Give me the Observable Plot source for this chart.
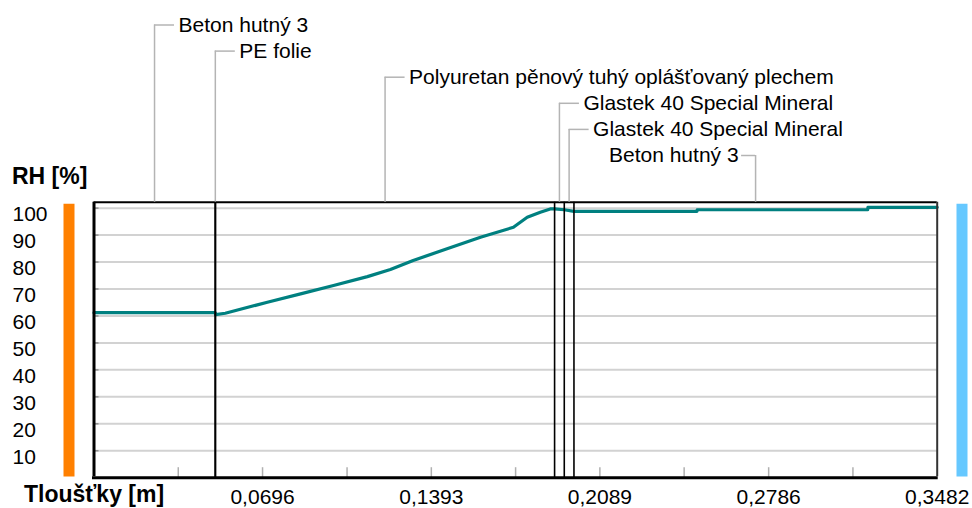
<!DOCTYPE html>
<html>
<head>
<meta charset="utf-8">
<script src="https://cdn.jsdelivr.net/npm/d3@7"></script>
<script src="https://cdn.jsdelivr.net/npm/@observablehq/plot@0.6"></script>
<style>
  html, body { margin: 0; padding: 0; background: #ffffff; }
</style>
</head>
<body>
<div id="chart"></div>
<script>
// ---- Data ----
const layerNames = [
  "Beton hutný 3",
  "PE folie",
  "Polyuretan pěnový tuhý oplášťovaný plechem",
  "Glastek 40 Special Mineral",
  "Glastek 40 Special Mineral",
  "Beton hutný 3"
];
const layerThickness = [0.05, 0.0002, 0.14, 0.004, 0.004, 0.15];
const labelSide = ["right", "right", "right", "right", "right", "left"];

const xTickValues = [0.0696, 0.1393, 0.2089, 0.2786, 0.3482];
const xMinorTicks = [0.0348, 0.0696, 0.1045, 0.1393, 0.1741, 0.2089, 0.2437, 0.2786, 0.3134];
const yTickValues = [10, 20, 30, 40, 50, 60, 70, 80, 90, 100];

const depth = [0, 0.05, 0.0502, 0.0542, 0.0716, 0.0853, 0.0989, 0.1129, 0.1224, 0.1318,
  0.1458, 0.1596, 0.1732, 0.1789, 0.1843, 0.1884, 0.1902, 0.1942, 0.1982, 0.2490,
  0.2491, 0.3195, 0.3196, 0.3482];
const rh = [61.2, 61.2, 60.5, 61.0, 65.1, 68.2, 71.3, 74.6, 77.2, 80.6,
  84.9, 89.2, 92.9, 96.6, 98.5, 99.7, 99.7, 99.4, 98.8, 98.8,
  99.4, 99.4, 100.3, 100.3];

// ---- Derived ----
const bounds = [0];
layerThickness.forEach(t => bounds.push(bounds[bounds.length - 1] + t));
const total = bounds[bounds.length - 1];
const layers = layerNames.map((name, i) => ({
  name, mid: (bounds[i] + bounds[i + 1]) / 2, side: labelSide[i]
}));
const curve = depth.map((d, i) => ({depth: d, rh: rh[i]}));

const Y_MAX = 102.2;
const M_TOP = 201.7, M_LEFT = 93.5, M_RIGHT = 35.3, M_BOTTOM = 30.8;
const ROW0 = 24.5, ROW_STEP = 26.1;
const LEADER = "#b4b4b4";

const labelMarks = layers.flatMap((d, i) => {
  const h = M_TOP - (ROW0 + ROW_STEP * i);
  const right = d.side === "right";
  return [
    Plot.ruleX([d], {x: "mid", y1: Y_MAX, y2: Y_MAX, insetTop: -h, stroke: LEADER, strokeWidth: 1.5}),
    Plot.ruleY([d], {y: Y_MAX, x1: "mid", x2: "mid", dy: -h,
      insetRight: right ? -20 : 0, insetLeft: right ? 0 : -14, stroke: LEADER, strokeWidth: 1.5}),
    Plot.text([d], {x: "mid", y: Y_MAX, dy: -h, dx: right ? 24 : -17, text: "name",
      textAnchor: right ? "start" : "end", lineAnchor: "middle", fill: "#000", fontSize: 21})
  ];
});

const chart = Plot.plot({
  width: 972,
  height: 508,
  marginTop: M_TOP,
  marginLeft: M_LEFT,
  marginRight: M_RIGHT,
  marginBottom: M_BOTTOM,
  style: {
    fontFamily: "'Liberation Sans', Arial, sans-serif",
    fontSize: "21px",
    background: "#ffffff",
    overflow: "visible",
    color: "#000"
  },
  x: {domain: [0, total], label: null},
  y: {domain: [0, Y_MAX], label: null},
  marks: [
    // side bars (interior / exterior)
    Plot.ruleX([0], {x: d => d, y1: 0, y2: Y_MAX, dx: -25, stroke: "#ff8000", strokeWidth: 11, insetTop: -0.7, insetBottom: -2}),
    Plot.ruleX([total], {x: d => d, y1: 0, y2: Y_MAX, dx: 24.8, stroke: "#66c8ff", strokeWidth: 11, insetTop: -0.7, insetBottom: -2}),
    // grid
    Plot.ruleY(yTickValues, {stroke: "#d2d2d2", strokeWidth: 2}),
    Plot.ruleY(yTickValues, {x1: 0, x2: 0, insetRight: -5, stroke: "#909090", strokeWidth: 1.5}),
    Plot.ruleX(xMinorTicks, {y1: 0, y2: 0, insetTop: -10, stroke: "#b0b0b0", strokeWidth: 1.5}),
    // curve
    Plot.line(curve, {x: "depth", y: "rh", stroke: "#008080", strokeWidth: 3.2}),
    // layer boundaries
    Plot.ruleX(bounds.slice(1, -1), {y1: 0, y2: Y_MAX, stroke: "#000", strokeWidth: 1.6}),
    // frame
    Plot.ruleY([Y_MAX], {stroke: "#000", strokeWidth: 2}),
    Plot.ruleY([0], {stroke: "#000", strokeWidth: 3, insetLeft: -1.5, insetRight: -1}),
    Plot.ruleX([0], {y1: 0, y2: Y_MAX, stroke: "#000", strokeWidth: 3, insetTop: -1}),
    Plot.ruleX([total], {y1: 0, y2: Y_MAX, stroke: "#333", strokeWidth: 2, insetTop: -1}),
    // axes
    Plot.axisY(yTickValues, {tickSize: 0, tickPadding: 81.5, textAnchor: "start", dy: 6.5, label: null, fontSize: 21, fill: "#000"}),
    Plot.axisX(xTickValues, {tickSize: 0, tickPadding: 11, label: null, fontSize: 21, fill: "#000",
      tickFormat: d => d.toFixed(4).replace(".", ",")}),
    // axis titles
    Plot.text(["RH [%]"], {text: d => d, frameAnchor: "top-left", dx: -82, dy: -25.7,
      textAnchor: "start", lineAnchor: "middle", fontWeight: "bold", fontSize: 23, fill: "#000"}),
    Plot.text(["Tloušťky [m]"], {text: d => d, frameAnchor: "bottom-left", dx: -70, dy: 16.5,
      textAnchor: "start", lineAnchor: "middle", fontWeight: "bold", fontSize: 23, fill: "#000"}),
    // layer labels with leaders
    ...labelMarks
  ]
});
document.getElementById("chart").appendChild(chart);
</script>
</body>
</html>
